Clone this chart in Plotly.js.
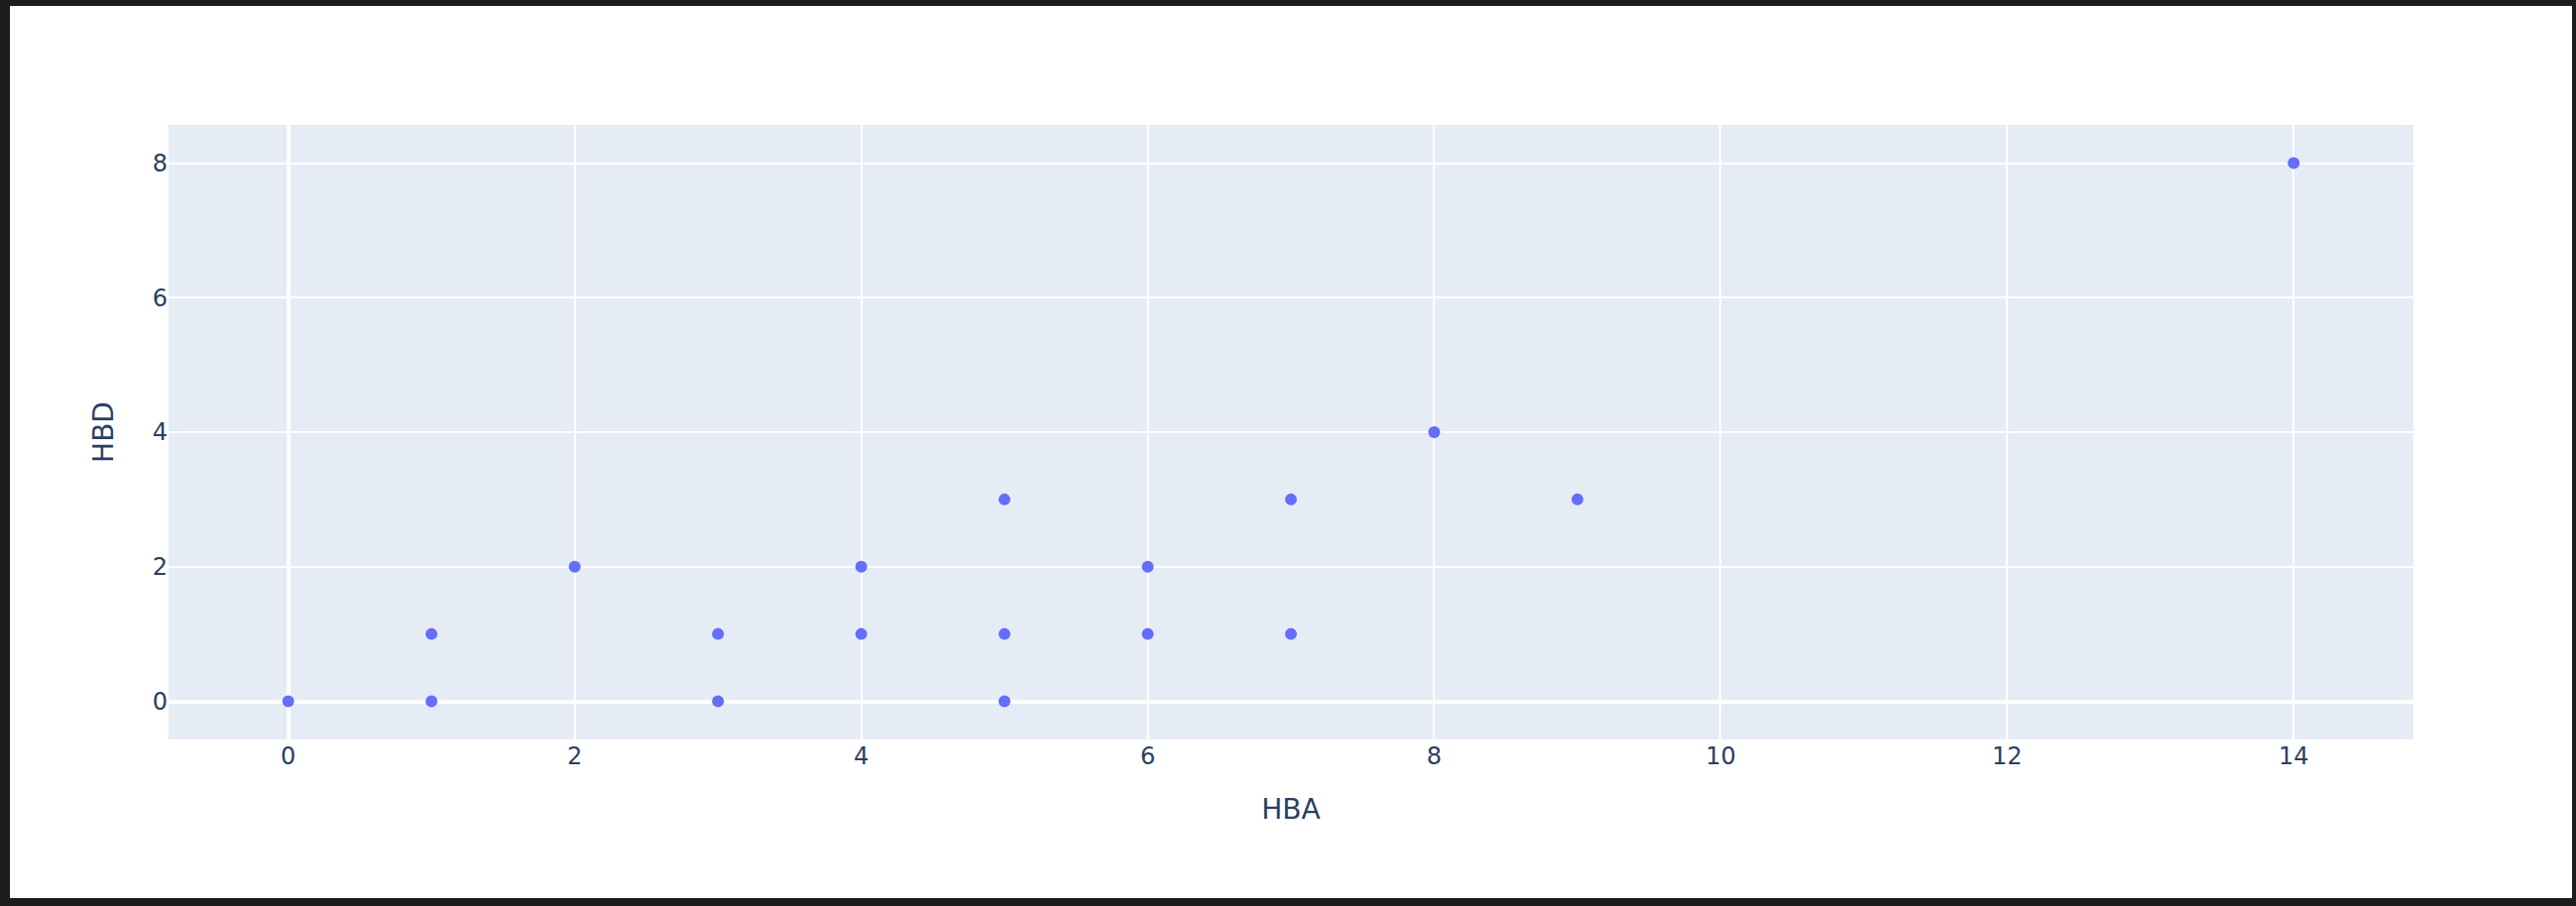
<!DOCTYPE html>
<html>
<head>
<meta charset="utf-8">
<script src="https://cdn.plot.ly/plotly-3.0.1.min.js"></script>
<style>
html, body { margin: 0; padding: 0; background: #1c1c1c; width: 2598px; height: 914px; overflow: hidden; }
#chart { position: absolute; left: 10px; top: 6px; width: 2584px; height: 900px; background: #fff; }
</style>
</head>
<body>
<div id="chart"></div>
<script>
const hba = [0, 1, 1, 2, 3, 3, 4, 4, 5, 5, 5, 6, 6, 7, 7, 8, 9, 14];
const hbd = [0, 0, 1, 2, 0, 1, 1, 2, 0, 1, 3, 1, 2, 1, 3, 4, 3, 8];

const trace = {
  x: hba,
  y: hbd,
  mode: 'markers',
  type: 'scatter',
  marker: { color: '#636efa', size: 12 },
  hoverinfo: 'x+y'
};

const axisCommon = {
  gridcolor: 'white',
  gridwidth: 2,
  zerolinecolor: 'white',
  zerolinewidth: 4,
  showline: false,
  ticks: '',
  tickfont: { size: 24, color: '#2a3f5f' },
  automargin: false
};

const layout = {
  width: 2584,
  height: 900,
  margin: { l: 160, r: 160, t: 120, b: 160 },
  paper_bgcolor: 'white',
  plot_bgcolor: '#E5ECF6',
  font: { family: '"DejaVu Sans", verdana, arial, sans-serif', color: '#2a3f5f', size: 24 },
  showlegend: false,
  xaxis: Object.assign({}, axisCommon, {
    title: { text: 'HBA', font: { size: 28, color: '#2a3f5f' }, standoff: 30 },
    dtick: 2
  }),
  yaxis: Object.assign({}, axisCommon, {
    title: { text: 'HBD', font: { size: 28, color: '#2a3f5f' }, standoff: 30 },
    dtick: 2
  })
};

Plotly.newPlot('chart', [trace], layout, { displayModeBar: false, responsive: false });
</script>
</body>
</html>
